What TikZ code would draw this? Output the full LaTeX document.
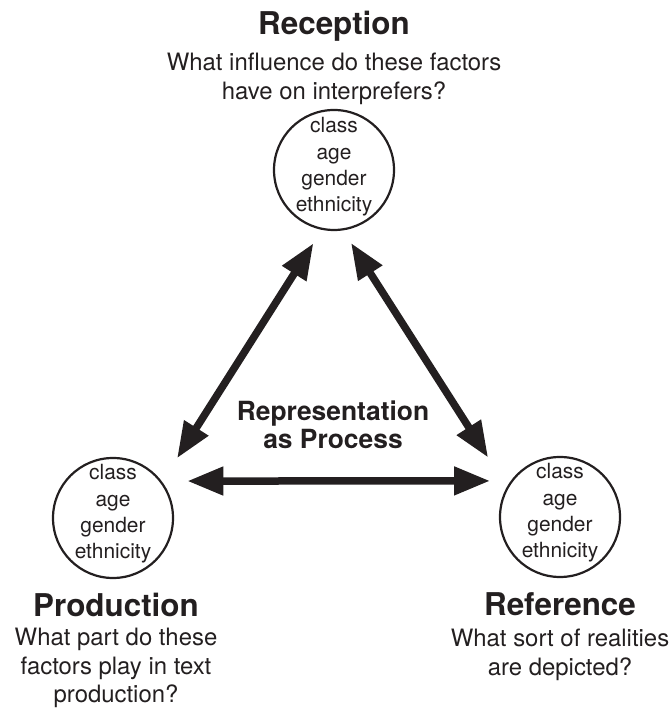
\documentclass[tikz,border=0pt]{standalone}
\usepackage{fontspec}
\setmainfont{TeX Gyre Heros}
\usepackage{tikz}
\usetikzlibrary{arrows.meta}
\definecolor{ink}{RGB}{35,31,32}

\begin{document}
\begin{tikzpicture}[>={Triangle[length=36bp,width=27bp]},line join=bevel,color=ink,
  factor/.style={circle,draw,line width=2.2bp,minimum size=120bp,inner sep=0pt,outer sep=0pt},
  factorlist/.style={align=center,inner sep=0pt,font=\fontsize{21}{26.5}\selectfont},
  heading/.style={anchor=base,inner sep=0pt,font=\fontsize{31.5}{36}\selectfont\bfseries},
  question/.style={anchor=north,align=center,inner sep=0pt,font=\fontsize{24}{28.5}\selectfont},
  link/.style={<->,line width=7.5bp}]
%%
\useasboundingbox (0bp,0bp) rectangle (672bp,708bp);
\node (node_rec) at (334bp,538bp) [factor] {};
  \node (node_prod) at (113bp,190bp) [factor] {};
  \node (node_ref) at (560bp,191bp) [factor] {};
  \node (node_rec_list) at ([yshift=3bp]node_rec.center) [factorlist] {class\\age\\gender\\ethnicity};
  \node (node_prod_list) at ([yshift=4bp]node_prod.center) [factorlist] {class\\age\\gender\\ethnicity};
  \node (node_ref_list) at ([yshift=4bp]node_ref.center) [factorlist] {class\\age\\gender\\ethnicity};
  \node (node_rec_head) at (334bp,673bp) [heading] {Reception};
  \node (node_rec_q) at (334bp,655bp) [question] {What influence do these factors\\have on interprefers?};
  \node (node_prod_head) at (116bp,91bp) [heading] {Production};
  \node (node_prod_q) at (116bp,80bp) [question] {What part do these\\factors play in text\\production?};
  \node (node_ref_head) at (560bp,92bp) [heading] {Reference};
  \node (node_ref_q) at (560bp,79bp) [question] {What sort of realities\\are depicted?};
  \node (node_mid) at (333bp,307bp) [question,font=\fontsize{26.5}{28}\selectfont\bfseries] {Representation\\as Process};
  \draw [link,shorten <=29bp,shorten >=17bp] (node_prod.36) -- (node_rec.259);
  \draw [link,shorten <=16bp,shorten >=36bp] (node_rec.278) -- (node_ref.151);
  \draw [link,shorten <=27bp,shorten >=22bp] (node_prod.38) -- (node_ref.143);
%
\end{tikzpicture}
\end{document}
